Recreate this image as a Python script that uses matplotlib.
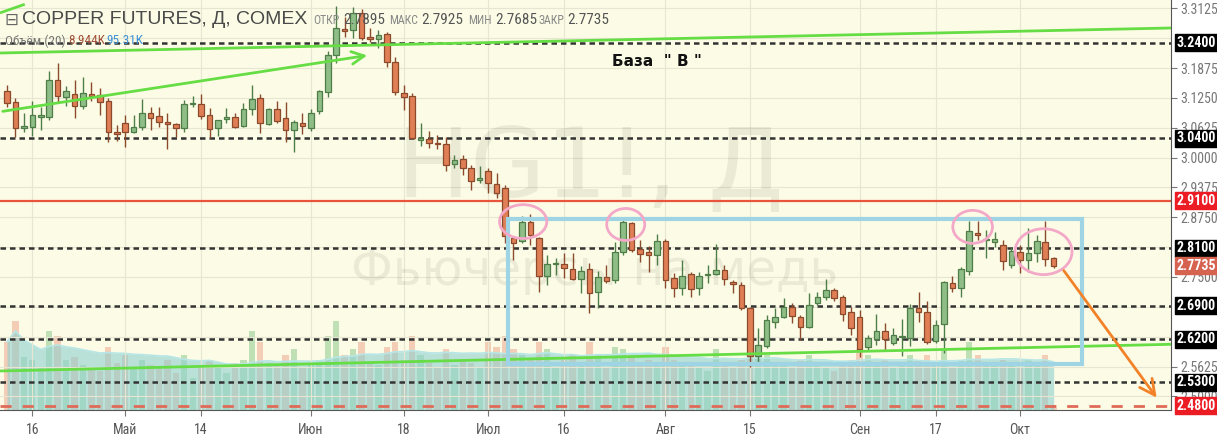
import matplotlib
matplotlib.use('Agg')
import matplotlib.pyplot as plt
import matplotlib.transforms as mtransforms
from matplotlib.patches import Rectangle, Ellipse
from matplotlib import font_manager
import numpy as np
import pandas as pd

# ---------------- data ----------------
holidays = ['2018-05-28', '2018-07-04', '2018-09-03']
dates = pd.bdate_range('2018-04-11', '2018-10-05', freq='C', holidays=holidays)

opens = [3.140, 3.116, 3.063, 3.065, 3.084, 3.086, 3.162, 3.126, 3.133, 3.107,
         3.133, 3.131, 3.119, 3.054, 3.072, 3.053, 3.065, 3.093, 3.087, 3.075,
         3.070, 3.061, 3.112, 3.112, 3.089, 3.061, 3.080, 3.084, 3.066, 3.101,
         3.124, 3.070, 3.102, 3.082, 3.057, 3.072, 3.062, 3.098, 3.138, 3.214,
         3.269, 3.267, 3.302, 3.253, 3.248, 3.258, 3.201, 3.136, 3.129, 3.036,
         3.039, 3.031, 3.028, 2.987, 2.997, 2.978, 2.953, 2.971, 2.945, 2.936,
         2.831, 2.825, 2.866, 2.831, 2.752, 2.777, 2.777, 2.766, 2.745, 2.766,
         2.719, 2.751, 2.744, 2.803, 2.863, 2.808, 2.803, 2.796, 2.826, 2.747,
         2.726, 2.756, 2.726, 2.754, 2.756, 2.764, 2.740, 2.733, 2.685, 2.585,
         2.606, 2.656, 2.666, 2.687, 2.667, 2.645, 2.695, 2.708, 2.723, 2.708,
         2.676, 2.667, 2.603, 2.620, 2.636, 2.611, 2.624, 2.622, 2.685, 2.676,
         2.616, 2.651, 2.737, 2.728, 2.762, 2.842, 2.828, 2.823, 2.816, 2.775,
         2.802, 2.786, 2.800, 2.823, 2.7895]
highs = [3.151, 3.124, 3.093, 3.119, 3.105, 3.181, 3.198, 3.150, 3.163, 3.169,
         3.158, 3.145, 3.124, 3.068, 3.089, 3.089, 3.123, 3.105, 3.106, 3.093,
         3.072, 3.121, 3.130, 3.134, 3.103, 3.079, 3.103, 3.093, 3.115, 3.151,
         3.133, 3.103, 3.118, 3.116, 3.079, 3.093, 3.101, 3.142, 3.224, 3.317,
         3.295, 3.316, 3.312, 3.271, 3.267, 3.264, 3.211, 3.152, 3.135, 3.072,
         3.056, 3.047, 3.044, 3.006, 3.006, 2.985, 2.982, 2.978, 2.968, 2.943,
         2.834, 2.878, 2.881, 2.834, 2.796, 2.789, 2.800, 2.801, 2.772, 2.779,
         2.763, 2.775, 2.824, 2.869, 2.866, 2.828, 2.814, 2.840, 2.829, 2.758,
         2.786, 2.761, 2.761, 2.775, 2.819, 2.775, 2.744, 2.740, 2.688, 2.643,
         2.671, 2.685, 2.705, 2.695, 2.671, 2.716, 2.719, 2.745, 2.727, 2.712,
         2.687, 2.681, 2.629, 2.673, 2.654, 2.643, 2.662, 2.694, 2.719, 2.700,
         2.660, 2.742, 2.752, 2.771, 2.867, 2.867, 2.848, 2.844, 2.828, 2.813,
         2.817, 2.853, 2.838, 2.867, 2.7925]
lows = [3.105, 3.043, 3.054, 3.045, 3.058, 3.079, 3.114, 3.108, 3.082, 3.102,
        3.119, 3.089, 3.032, 3.035, 3.023, 3.051, 3.058, 3.058, 3.064, 3.017,
        3.043, 3.054, 3.106, 3.080, 3.040, 3.045, 3.073, 3.061, 3.064, 3.090,
        3.051, 3.068, 3.072, 3.033, 3.012, 3.049, 3.056, 3.091, 3.126, 3.198,
        3.253, 3.250, 3.246, 3.243, 3.229, 3.190, 3.131, 3.100, 3.039, 3.024,
        3.021, 3.017, 2.971, 2.978, 2.964, 2.932, 2.946, 2.925, 2.915, 2.822,
        2.786, 2.821, 2.817, 2.719, 2.733, 2.754, 2.747, 2.744, 2.717, 2.675,
        2.685, 2.738, 2.737, 2.796, 2.803, 2.782, 2.761, 2.775, 2.728, 2.709,
        2.712, 2.709, 2.712, 2.737, 2.754, 2.733, 2.716, 2.681, 2.562, 2.569,
        2.601, 2.643, 2.664, 2.654, 2.618, 2.643, 2.691, 2.702, 2.700, 2.658,
        2.629, 2.583, 2.597, 2.608, 2.597, 2.608, 2.585, 2.606, 2.656, 2.610,
        2.612, 2.591, 2.719, 2.708, 2.754, 2.828, 2.790, 2.813, 2.765, 2.769,
        2.758, 2.761, 2.781, 2.773, 2.7685]
closes = [3.114, 3.063, 3.066, 3.089, 3.089, 3.162, 3.128, 3.139, 3.107, 3.135,
          3.130, 3.116, 3.053, 3.049, 3.053, 3.064, 3.093, 3.082, 3.074, 3.070,
          3.063, 3.112, 3.113, 3.088, 3.059, 3.078, 3.084, 3.064, 3.101, 3.123,
          3.072, 3.101, 3.077, 3.057, 3.075, 3.066, 3.093, 3.139, 3.214, 3.271,
          3.265, 3.302, 3.251, 3.248, 3.256, 3.201, 3.137, 3.126, 3.040, 3.041,
          3.030, 3.029, 2.985, 2.994, 2.978, 2.951, 2.957, 2.946, 2.925, 2.836,
          2.821, 2.866, 2.837, 2.752, 2.777, 2.779, 2.768, 2.745, 2.763, 2.716,
          2.751, 2.742, 2.803, 2.865, 2.807, 2.798, 2.796, 2.826, 2.744, 2.728,
          2.753, 2.724, 2.753, 2.756, 2.764, 2.745, 2.735, 2.685, 2.585, 2.607,
          2.659, 2.666, 2.687, 2.668, 2.645, 2.691, 2.708, 2.723, 2.705, 2.673,
          2.643, 2.599, 2.622, 2.636, 2.620, 2.628, 2.625, 2.685, 2.676, 2.613,
          2.649, 2.739, 2.728, 2.766, 2.846, 2.838, 2.830, 2.829, 2.783, 2.805,
          2.786, 2.800, 2.825, 2.788, 2.7735]
# volume in thousands of contracts
volumes = [130, 170, 100, 95, 80, 150, 140, 95, 100, 85,
           80, 75, 120, 90, 105, 80, 95, 85, 80, 95,
           70, 105, 60, 80, 95, 85, 70, 90, 95, 150,
           130, 90, 85, 105, 115, 80, 90, 95, 140, 170,
           105, 115, 130, 90, 85, 120, 130, 95, 140, 105,
           90, 80, 115, 85, 95, 90, 80, 130, 120, 140,
           115, 105, 95, 130, 115, 80, 95, 105, 90, 130,
           105, 80, 120, 115, 105, 90, 95, 85, 120, 95,
           90, 85, 80, 75, 115, 90, 80, 95, 130, 120,
           105, 90, 85, 80, 95, 105, 90, 80, 75, 90,
           95, 115, 105, 90, 95, 80, 85, 105, 95, 105,
           90, 115, 80, 95, 130, 105, 90, 85, 95, 90,
           80, 95, 90, 105, 9]
vol_ma = list(pd.Series(volumes).rolling(20, min_periods=1).mean())

level_black = [3.24, 3.04, 2.81, 2.69, 2.62, 2.53]
level_red_solid = 2.91
level_red_dash = 2.48
last_price = 2.7735
price_ticks = [3.3125, 3.1875, 3.125, 3.0625, 3.0, 2.9375, 2.875, 2.75, 2.5625, 2.5]

tick_dates = ['2018-04-16', '2018-05-01', '2018-05-14', '2018-06-01', '2018-06-18', '2018-07-02',
              '2018-07-16', '2018-08-01', '2018-08-15', '2018-09-04', '2018-09-17', '2018-10-01']
tick_labels = ['16', 'Май', '14', 'Июн', '18', 'Июл', '16', 'Авг', '15', 'Сен', '17', 'Окт']

# drawings (index, price)
top_line = [(-0.83, 3.219), (137.9, 3.2714)]
corner_line = [(-0.83, 3.303), (2.1, 3.321)]
arrow_green = [(-0.83, 3.096), (43.0, 3.2148)]
bottom_line = [(-0.83, 2.5532), (137.9, 2.6091)]
box_x = (59.3, 127.3)
box_y = (2.5668, 2.8708)
ellipses = [(61.15, 2.866, 5.6, 0.071), (73.3, 2.860, 4.5, 0.067),
            (114.4, 2.855, 4.7, 0.069), (122.8, 2.803, 6.75, 0.096)]
arrow_orange = [(125.0, 2.7682), (136.4, 2.4925)]

# ---------------- fonts ----------------
names = {f.name for f in font_manager.fontManager.ttflist}
NARROW, NS = 'Liberation Sans', 0.8
for cand in ['Liberation Sans Narrow', 'DejaVu Sans Condensed', 'Roboto Condensed',
             'Open Sans Condensed', 'Arial Narrow']:
    if cand in names:
        NARROW, NS = cand, 1.0
        break
NFAM = [NARROW, 'DejaVu Sans']
REG = ['Liberation Sans', 'DejaVu Sans']

# ---------------- figure ----------------
W, H = 1217, 437
fig = plt.figure(figsize=(W / 100, H / 100), dpi=100, facecolor='white')
pos = [0, 27 / H, 1171 / W, 410 / H]
plt.rcParams['font.family'] = NFAM

bg = '#fcfce6'
vax = fig.add_axes(pos, zorder=0, facecolor=bg)
ax = fig.add_axes(pos, zorder=1, facecolor='none', sharex=vax)

x = np.arange(len(dates))
xmin, xmax = -0.83, 137.9

# volume
vcol = ['#b9dcb0' if c >= o else '#f2c8b0' for o, c in zip(opens, closes)]
vax.bar(x, volumes, width=0.75, color=vcol, alpha=0.9, zorder=1)
vax.fill_between(x, 0, vol_ma, color='#8fd0d0', alpha=0.6, lw=0, zorder=2)
vax.plot(x, vol_ma, color='#b8e6e6', lw=1.2, zorder=3)
vax.set_ylim(0, 95 * 410 / 50)
vax.set_xlim(xmin, xmax)
vax.set_yticks([])
for s in vax.spines.values():
    s.set_visible(False)
vax.tick_params(bottom=False, labelbottom=False)

# grid
for d in tick_dates:
    xi = dates.get_loc(pd.Timestamp(d))
    ax.axvline(xi, color='#e6e6d2', lw=0.8, zorder=0)
for t in price_ticks + [2.625, 2.6875, 2.8125, 3.25]:
    ax.axhline(t, color='#e6e6d2', lw=0.8, zorder=0)

# watermark
ax.text(69.1, 2.972, 'HG1!, Д', fontsize=70, color='#000000', alpha=0.07,
        ha='center', va='center', family=['DejaVu Sans'], zorder=0.5)
ax.text(69.6, 2.762, 'Фьючерсы на медь', fontsize=35, color='#000000', alpha=0.07,
        ha='center', va='center', family=['DejaVu Sans'], zorder=0.5)

# candles
up_fill, up_edge = '#8fbd88', '#4e7d48'
dn_fill, dn_edge = '#e07f56', '#8c4a2c'
for i in range(len(dates)):
    o, h, l, c = opens[i], highs[i], lows[i], closes[i]
    up = c >= o
    ec = up_edge if up else dn_edge
    fc = up_fill if up else dn_fill
    ax.vlines(x[i], l, h, color=ec, lw=1.0, zorder=3)
    bot = min(o, c)
    hgt = max(abs(c - o), 0.002)
    ax.bar(x[i], hgt, bottom=bot, width=0.66, color=fc, edgecolor=ec, lw=0.9, zorder=4)

# levels
for lv in level_black:
    ax.axhline(lv, color='#333333', lw=1.8, ls=(0, (2.2, 1.6)), zorder=2)
ax.axhline(level_red_solid, color='#e8553c', lw=1.6, zorder=2)
ax.axhline(level_red_dash, color='#e06a58', lw=2.0, ls=(0, (4, 4)), zorder=2)

# trend lines
green = '#66dd44'
for ln in (top_line, corner_line, bottom_line):
    ax.plot([p[0] for p in ln], [p[1] for p in ln], color=green, lw=2, zorder=5, solid_capstyle='butt')
ax.annotate('', xy=arrow_green[1], xytext=arrow_green[0],
            arrowprops=dict(arrowstyle='->,head_length=0.9,head_width=0.45', color=green, lw=2),
            zorder=5)

# blue box
ax.add_patch(Rectangle((box_x[0], box_y[0]), box_x[1] - box_x[0], box_y[1] - box_y[0],
                       fill=False, ec='#9fd4e4', lw=3, zorder=6))
# ellipses
for cx, cy, ew, eh in ellipses:
    ax.add_patch(Ellipse((cx, cy), ew, eh, fill=False, ec='#f4a8c8', lw=2, zorder=6))
# orange arrow
ax.annotate('', xy=arrow_orange[1], xytext=arrow_orange[0],
            arrowprops=dict(arrowstyle='->,head_length=1.1,head_width=0.55', color='#f28228', lw=2),
            zorder=6)

# label
ax.text(71.7, 3.2002, 'База  " В "', fontsize=11, fontweight='bold', color='#111111',
        ha='left', va='center', family=['DejaVu Sans'], zorder=7)

# axes
ax.set_xlim(xmin, xmax)
ax.set_ylim(2.4715, 3.33)
ax.yaxis.tick_right()
ax.set_yticks(price_ticks)
ax.set_yticklabels([f'{t:.4f}' for t in price_ticks])
ax.tick_params(axis='y', colors='#777777', labelsize=10 * NS, length=4, width=0.8, pad=3,
               labelcolor='#777777')
ax.set_xticks([dates.get_loc(pd.Timestamp(d)) for d in tick_dates])
ax.set_xticklabels(tick_labels)
ax.tick_params(axis='x', colors='#777777', labelsize=10 * NS, length=4, width=0.8, pad=5,
               labelcolor='#555555')
for s in ('left', 'top'):
    ax.spines[s].set_visible(False)
ax.spines['right'].set_color('#555555')
ax.spines['bottom'].set_color('#555555')

# price boxes on the right axis
tr = mtransforms.blended_transform_factory(ax.transAxes, ax.transData)
bw = 43 / 1171
bh = 17 / 477.6
def pricebox(val, color):
    ax.add_patch(Rectangle((1.003, val - bh / 2), bw, bh, transform=tr, color=color,
                           clip_on=False, zorder=10))
    ax.text(1.003 + bw / 2, val, f'{val:.4f}', transform=tr, color='white', fontsize=10 * NS,
            fontweight='bold', ha='center', va='center', zorder=11, clip_on=False)
for lv in level_black:
    pricebox(lv, '#000000')
pricebox(level_red_solid, '#ec1c24')
pricebox(level_red_dash, '#ec1c24')
pricebox(last_price, '#d66250')

# header
fig.text(4 / W, 1 - 20 / H, '⊟', fontsize=12, color='#666666', va='center', ha='left',
         family=['DejaVu Sans'])
fig.text(22 / W, 1 - 20 / H, 'COPPER FUTURES, Д, COMEX', fontsize=14, color='#4a4a4a',
         va='center', ha='left', family=REG)
hdr = [('ОТКР', 340, '2.7895', 343), ('МАКС', 418, '2.7925', 421),
       ('МИН', 492, '2.7685', 495), ('ЗАКР', 564, '2.7735', 567)]
for lab, lx, val, vx in hdr:
    fig.text(lx / W, 1 - 20 / H, lab, fontsize=8.5 * NS, color='#888888', va='center', ha='right')
    fig.text(vx / W, 1 - 20 / H, val, fontsize=11 * NS, color='#555555', va='center', ha='left')
fig.text(5 / W, 1 - 41 / H, 'Объём (20)', fontsize=9.5 * NS, color='#777777', va='center', ha='left')
fig.text(68 / W, 1 - 41 / H, '8.944K', fontsize=9.5 * NS, color='#a5523a', va='center', ha='left')
fig.text(106 / W, 1 - 41 / H, '95.31K', fontsize=9.5 * NS, color='#3d92d6', va='center', ha='left')

fig.savefig('out.png', dpi=100, facecolor='white')
